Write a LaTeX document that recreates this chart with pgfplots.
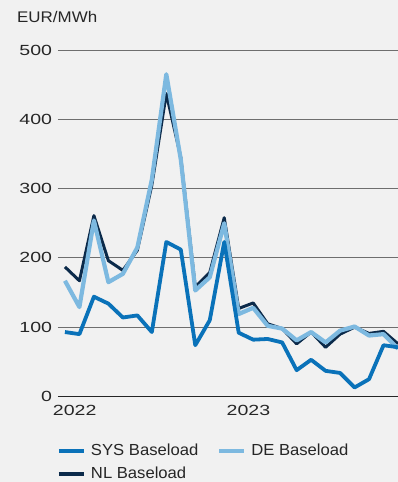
\documentclass[border=0pt]{standalone}
\usepackage{fontspec}
\setmainfont{Liberation Sans}
\newfontfamily\numfont[FakeStretch=1.33]{Liberation Sans}
\newfontfamily\unitfont[FakeStretch=1.1]{Liberation Sans}
\newfontfamily\legfont[FakeStretch=1.04]{Liberation Sans}
\usepackage{pgfplots}
\pgfplotsset{compat=1.18}
\definecolor{bg}{HTML}{F1F1F1}
\definecolor{sys}{HTML}{0A72B9}
\definecolor{de}{HTML}{7DB9E0}
\definecolor{nl}{HTML}{0B2A4A}
\definecolor{gridc}{HTML}{6E6E6E}
\pgfplotstableread{
idx sys de nl
0 93 167 187
1 90 129 167
2 144 254 261
3 134 165 196
4 114 177 182
5 117 215 211
6 93 313 305
7 223 465 437
8 212 342 345
9 74 153 158
10 110 172 179
11 223 250 258
12 92 119 127
13 82 128 135
14 83 102 105
15 78 98 98
16 38 81 76
17 53 93 93
18 37 78 71
19 34 95 90
20 13 101 100
21 25 88 91
22 74 90 94
23 71 69 76
}\datatable
\begin{document}
\begin{tikzpicture}
\fill[bg] (-58bp,-85.5bp) rectangle (340bp,396.5bp);
\begin{axis}[
  at={(0,0)}, anchor=south west,
  scale only axis, width=340bp, height=346.5bp,
  xmin=-0.48, xmax=23, ymin=0, ymax=500,
  axis line style={draw=none},
  major tick length=0pt,
  ytick={100,200,300,400,500},
  extra y ticks={0},
  extra y tick style={grid style={black!85, line width=1.6bp}},
  ymajorgrids,
  grid style={gridc, line width=0.9bp},
  xtick={0.67,12.67}, xticklabels={2022,2023},
  yticklabel style={font=\numfont\fontsize{14.7bp}{16bp}\selectfont, text=black!85, inner sep=0pt, anchor=east, xshift=-5.7bp},
  xticklabel style={font=\numfont\fontsize{14.7bp}{16bp}\selectfont, text=black!85, inner sep=0pt, anchor=north, yshift=-8.5bp},
  /pgf/number format/assume math mode=true,
  legend columns=2,
  legend style={at={(0,0)}, anchor=north west, xshift=-1bp, yshift=-47.5bp,
    draw=none, fill=none, inner sep=0pt, outer sep=0pt,
    nodes={inner sep=0pt, text=black!85},
    font=\legfont\fontsize{16bp}{18bp}\selectfont,
    row sep=10bp,
    /tikz/every odd column/.append style={column sep=5bp},
    /tikz/every even column/.append style={column sep=19bp}},
  legend image code/.code={\draw[#1, line width=4bp] (0bp,0bp) -- (25bp,0bp);},
  legend cell align=left,
]
\addlegendimage{sys}
\addlegendentry{SYS Baseload}
\addlegendimage{de}
\addlegendentry{DE Baseload}
\addlegendimage{nl}
\addlegendentry{NL Baseload}
\addplot[nl, line width=3bp, line join=round, forget plot] table[x=idx, y=nl] {\datatable};
\addplot[de, line width=4.2bp, line join=round, forget plot] table[x=idx, y=de] {\datatable};
\addplot[sys, line width=3.8bp, line join=round, forget plot] table[x=idx, y=sys] {\datatable};
\end{axis}
\node[anchor=base west, inner sep=0pt, text=black!85, font=\unitfont\fontsize{15.4bp}{17bp}\selectfont] at (-41bp,373.8bp) {EUR/MWh};
\pgfresetboundingbox
\path (-58bp,-85.5bp) rectangle (340bp,396.5bp);
\end{tikzpicture}
\end{document}
